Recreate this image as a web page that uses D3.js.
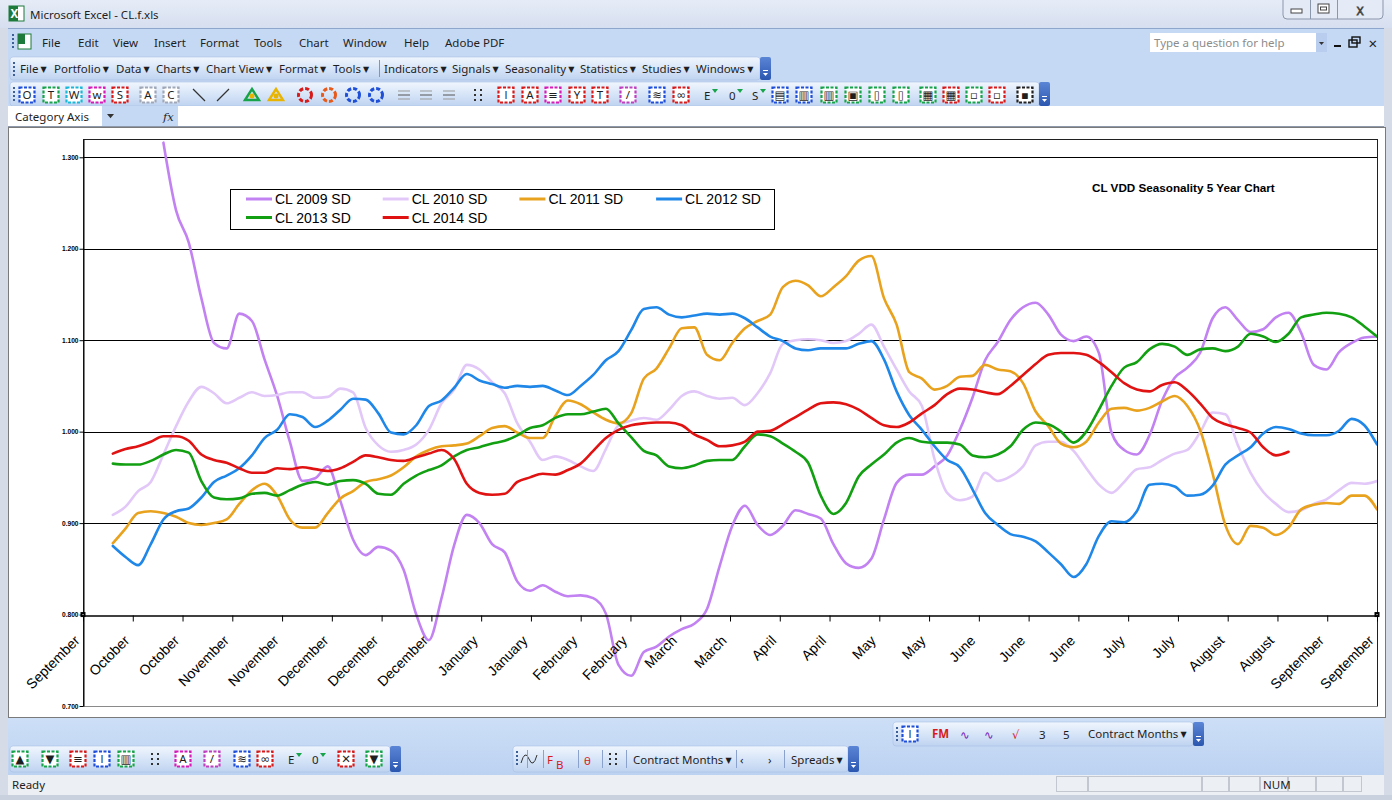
<!DOCTYPE html>
<html>
<head>
<meta charset="utf-8">
<title>CL VDD Seasonality 5 Year Chart</title>
<script src="https://cdn.jsdelivr.net/npm/d3@7"></script>
<style>
  html, body { margin: 0; padding: 0; overflow: hidden; background: #d7dee9; }
  svg text { font-family: "Liberation Sans", Arial, sans-serif; }
  .ui text { font-family: "Noto Sans", "DejaVu Sans", sans-serif; font-size: 11.5px; fill: #1e1e1e; }
</style>
</head>
<body>
<div id="graph-container"></div>
<script>
// ---- chart data -------------------------------------------------------
const categories = ["September", "October", "October", "November", "November", "December",
  "December", "December", "January", "January", "February", "February", "March", "March",
  "April", "April", "May", "May", "June", "June", "June", "July", "July", "August", "August",
  "September", "September"];

const yTicks = [0.7, 0.8, 0.9, 1.0, 1.1, 1.2, 1.3];

const seriesNames = ["CL 2009 SD", "CL 2010 SD", "CL 2011 SD", "CL 2012 SD", "CL 2013 SD", "CL 2014 SD"];
const seriesColors = ["#c282f2", "#e2c8f8", "#e9a21e", "#1f87e8", "#12a012", "#e01212"];

// seasonal index, sampled on a common trading-day grid (101 steps)
const cl2009 = [null, null, null, null, 1.316, 1.242, 1.207, 1.146, 1.097, 1.091,
  1.129, 1.121, 1.079, 1.039, 0.989, 0.946, 0.949, 0.962, 0.924, 0.882,
  0.865, 0.874, 0.870, 0.849, 0.800, 0.772, 0.818, 0.876, 0.909, 0.900,
  0.877, 0.868, 0.836, 0.826, 0.832, 0.825, 0.820, 0.821, 0.818, 0.801,
  0.745, 0.733, 0.759, 0.765, 0.776, 0.784, 0.790, 0.806, 0.853, 0.897,
  0.919, 0.898, 0.887, 0.897, 0.914, 0.910, 0.905, 0.877, 0.856, 0.851,
  0.861, 0.904, 0.944, 0.953, 0.953, 0.962, 0.974, 1.002, 1.037, 1.078,
  1.098, 1.122, 1.136, 1.141, 1.128, 1.106, 1.099, 1.104, 1.086, 0.999,
  0.980, 0.975, 0.996, 1.034, 1.059, 1.070, 1.086, 1.124, 1.136, 1.122,
  1.109, 1.112, 1.125, 1.130, 1.108, 1.073, 1.068, 1.087, 1.097, 1.103,
  1.104];

const cl2010 = [0.909, 0.918, 0.935, 0.945, 0.975, 1.006, 1.033, 1.049, 1.042, 1.031,
  1.037, 1.043, 1.039, 1.040, 1.043, 1.043, 1.037, 1.038, 1.047, 1.043,
  1.004, 0.985, 0.978, 0.980, 0.986, 1.002, 1.031, 1.046, 1.073, 1.068,
  1.054, 1.042, 1.009, 0.989, 0.969, 0.973, 0.969, 0.962, 0.957, 0.981,
  1.007, 1.012, 1.015, 1.013, 1.024, 1.039, 1.044, 1.039, 1.036, 1.037,
  1.029, 1.042, 1.064, 1.096, 1.100, 1.101, 1.100, 1.097, 1.099, 1.107,
  1.117, 1.093, 1.068, 1.044, 1.028, 0.970, 0.933, 0.925, 0.929, 0.955,
  0.946, 0.951, 0.962, 0.985, 0.989, 0.989, 0.979, 0.960, 0.942, 0.933,
  0.945, 0.959, 0.961, 0.969, 0.976, 0.980, 0.999, 1.021, 1.019, 0.985,
  0.955, 0.934, 0.921, 0.912, 0.914, 0.921, 0.926, 0.936, 0.944, 0.943,
  0.946];

const cl2011 = [0.878, 0.894, 0.911, 0.913, 0.911, 0.907, 0.900, 0.898, 0.900, 0.904,
  0.921, 0.936, 0.943, 0.930, 0.904, 0.895, 0.895, 0.911, 0.927, 0.935,
  0.945, 0.948, 0.952, 0.961, 0.973, 0.980, 0.984, 0.985, 0.987, 0.995,
  1.004, 1.006, 0.999, 0.993, 0.993, 1.017, 1.034, 1.030, 1.021, 1.013,
  1.009, 1.020, 1.058, 1.069, 1.091, 1.113, 1.114, 1.084, 1.078, 1.097,
  1.113, 1.121, 1.128, 1.158, 1.165, 1.160, 1.148, 1.158, 1.170, 1.187,
  1.192, 1.146, 1.117, 1.065, 1.058, 1.046, 1.050, 1.060, 1.061, 1.073,
  1.068, 1.066, 1.053, 1.022, 1.006, 0.987, 0.983, 0.989, 1.010, 1.025,
  1.026, 1.023, 1.026, 1.033, 1.039, 1.028, 1.002, 0.954, 0.898, 0.877,
  0.897, 0.895, 0.887, 0.895, 0.915, 0.920, 0.922, 0.921, 0.930, 0.930,
  0.915];

const cl2012 = [0.875, 0.863, 0.854, 0.877, 0.904, 0.913, 0.916, 0.928, 0.945, 0.952,
  0.960, 0.974, 0.993, 1.002, 1.019, 1.016, 1.005, 1.012, 1.024, 1.036,
  1.035, 1.020, 0.999, 0.997, 1.007, 1.028, 1.034, 1.048, 1.063, 1.056,
  1.052, 1.048, 1.050, 1.049, 1.050, 1.045, 1.040, 1.050, 1.062, 1.078,
  1.088, 1.111, 1.134, 1.136, 1.128, 1.125, 1.127, 1.129, 1.128, 1.129,
  1.124, 1.114, 1.104, 1.099, 1.091, 1.089, 1.091, 1.091, 1.091, 1.096,
  1.099, 1.079, 1.044, 1.018, 1.002, 0.984, 0.969, 0.961, 0.937, 0.911,
  0.898, 0.888, 0.885, 0.880, 0.868, 0.855, 0.841, 0.855, 0.886, 0.902,
  0.901, 0.913, 0.942, 0.943, 0.940, 0.930, 0.931, 0.941, 0.964, 0.974,
  0.983, 0.998, 1.005, 1.003, 0.998, 0.996, 0.996, 1.001, 1.014, 1.007,
  0.986];

const cl2013 = [0.965, 0.964, 0.964, 0.968, 0.975, 0.980, 0.977, 0.946, 0.928, 0.926,
  0.927, 0.932, 0.933, 0.930, 0.936, 0.942, 0.945, 0.942, 0.946, 0.947,
  0.943, 0.932, 0.931, 0.943, 0.952, 0.958, 0.963, 0.973, 0.980, 0.983,
  0.987, 0.990, 0.996, 1.004, 1.007, 1.015, 1.019, 1.019, 1.022, 1.025,
  1.009, 0.994, 0.979, 0.974, 0.962, 0.960, 0.963, 0.968, 0.969, 0.969,
  0.984, 0.997, 0.995, 0.987, 0.978, 0.966, 0.930, 0.910, 0.922, 0.951,
  0.964, 0.975, 0.988, 0.993, 0.989, 0.988, 0.988, 0.986, 0.974, 0.972,
  0.975, 0.984, 1.002, 1.010, 1.008, 1.000, 0.988, 1.000, 1.024, 1.050,
  1.070, 1.076, 1.090, 1.096, 1.093, 1.084, 1.090, 1.091, 1.088, 1.093,
  1.107, 1.104, 1.098, 1.107, 1.125, 1.128, 1.130, 1.129, 1.125, 1.115,
  1.104];

const cl2014 = [0.976, 0.981, 0.984, 0.989, 0.995, 0.995, 0.990, 0.975, 0.969, 0.966,
  0.960, 0.955, 0.955, 0.960, 0.959, 0.961, 0.959, 0.957, 0.960, 0.967,
  0.974, 0.972, 0.969, 0.968, 0.972, 0.976, 0.980, 0.970, 0.943, 0.933,
  0.931, 0.932, 0.945, 0.950, 0.954, 0.953, 0.958, 0.965, 0.979, 0.993,
  1.002, 1.007, 1.009, 1.010, 1.010, 1.007, 0.997, 0.991, 0.984, 0.985,
  0.989, 1.000, 1.001, 1.008, 1.016, 1.024, 1.031, 1.032, 1.030, 1.024,
  1.015, 1.007, 1.005, 1.010, 1.020, 1.029, 1.041, 1.047, 1.046, 1.043,
  1.041, 1.050, 1.062, 1.074, 1.084, 1.086, 1.086, 1.084, 1.076, 1.065,
  1.053, 1.046, 1.044, 1.051, 1.054, 1.045, 1.031, 1.015, 1.008, 1.004,
  0.999, 0.983, 0.974, 0.978];

const seriesValues = [cl2009, cl2010, cl2011, cl2012, cl2013, cl2014];
const chartTitle = "CL VDD Seasonality 5 Year Chart";

// ---- window chrome text -----------------------------------------------
const menuItems = [["File", 42], ["Edit", 78], ["View", 113], ["Insert", 154], ["Format", 200],
  ["Tools", 254], ["Chart", 299], ["Window", 343], ["Help", 404], ["Adobe PDF", 445]];
const toolMenus = [["File", 20], ["Portfolio", 54], ["Data", 116], ["Charts", 156], ["Chart View", 206],
  ["Format", 279], ["Tools", 333], ["Indicators", 384], ["Signals", 452], ["Seasonality", 505],
  ["Statistics", 580], ["Studies", 642], ["Windows", 696]];
const iconRow = [[27, "#1f4fd8", "O"], [51, "#17a34a", "T"], [74, "#17b8d8", "W"], [97, "#d81ab8", "w"],
  [120, "#d81a1a", "S"], [148, "#a0a8b8", "A"], [171, "#a0a8b8", "C"], [199, "line", "\\"], [223, "line", "/"],
  [252, "tri", "#17a34a"], [276, "tri", "#e8b400"], [305, "ring", "#d81a1a"], [329, "ring", "#e85a1a"],
  [353, "ring", "#1f4fd8"], [376, "ring", "#1f4fd8"], [404, "hl", ""], [426, "hl", ""], [449, "hl", ""],
  [478, "dots", ""], [506, "#d81a1a", "l"], [530, "#d81a1a", "A"], [553, "#d81ab8", "≡"], [577, "#d81a1a", "Y"],
  [600, "#d81a1a", "T"], [628, "#c040c0", "/"], [657, "#1f4fd8", "≋"], [681, "#d81a1a", "∞"],
  [708, "txt", "E"], [733, "txt", "0"], [756, "txt", "S"], [780, "#1f4fd8", "▤"], [804, "#1f4fd8", "▥"],
  [829, "#17a34a", "▥"], [853, "#17a34a", "▣"], [877, "#17a34a", "▯"], [901, "#17a34a", "▯"],
  [928, "#17a34a", "▦"], [951, "#d81a1a", "▦"], [974, "#17a34a", "▫"], [997, "#d81a1a", "▫"],
  [1025, "#222222", "▪"]];
const iconRowBottom = [[20, "#17a34a", "▲"], [50, "#17a34a", "▼"], [78, "#d81a1a", "≡"], [102, "#1f4fd8", "l"],
  [126, "#17a34a", "▥"], [155, "dots", ""], [183, "#d81ab8", "A"], [212, "#c040c0", "/"], [242, "#1f4fd8", "≋"],
  [265, "#d81a1a", "∞"], [292, "txt", "E"], [316, "txt", "0"], [346, "#d81a1a", "✕"], [374, "#17a34a", "▼"]];

// ---- layout ---------------------------------------------------------------
const W = 1392, H = 800;
const plot = { left: 83, right: 1377, top: 139, bottom: 706 };
const uiFont = '"Noto Sans", "DejaVu Sans", sans-serif';

const svg = d3.select("#graph-container").append("svg")
  .attr("width", W).attr("height", H)
  .style("display", "block");

const defs = svg.append("defs");
function vGradient(id, stops) {
  const g = defs.append("linearGradient").attr("id", id)
    .attr("x1", 0).attr("y1", 0).attr("x2", 0).attr("y2", 1);
  stops.forEach((c, i) => g.append("stop").attr("offset", i / (stops.length - 1)).attr("stop-color", c));
}
vGradient("titleGrad", ["#e6ecf7", "#d6dff0"]);
vGradient("barGrad", ["#f1f6fd", "#d7e5f8", "#bfd3f0"]);
vGradient("dockGrad", ["#cddff7", "#bcd2f1"]);
vGradient("chevGrad", ["#5b86d6", "#2c57b0"]);

drawChrome();
drawChart();

function triangleDown(g, x, y, s, color) {
  g.append("path").attr("d", `M${x},${y} l${s},0 l${-s / 2},${s * 0.6} z`).attr("fill", color || "#333");
}

function toolbar(g, x, y, w, h) {
  g.append("rect").attr("x", x).attr("y", y).attr("width", w).attr("height", h)
    .attr("rx", 3).attr("fill", "url(#barGrad)").attr("stroke", "#a9c0e4").attr("stroke-width", 0.6);
  // grip
  for (let i = 0; i < 4; i++) {
    g.append("rect").attr("x", x + 3).attr("y", y + 5 + i * 4).attr("width", 2).attr("height", 2).attr("fill", "#3d5f96");
  }
  // chevron
  g.append("rect").attr("x", x + w).attr("y", y).attr("width", 11).attr("height", h)
    .attr("rx", 2).attr("fill", "url(#chevGrad)");
  triangleDown(g, x + w + 3, y + h - 7, 5, "#ffffff");
  g.append("rect").attr("x", x + w + 3).attr("y", y + h - 10).attr("width", 5).attr("height", 1).attr("fill", "#fff");
}

function drawIcon(g, x, cy, spec) {
  const [, kind, glyph] = spec;
  const ig = g.append("g").attr("transform", `translate(${x},${cy})`);
  if (kind === "line") {
    ig.append("line").attr("x1", -6).attr("y1", glyph === "/" ? 6 : -6)
      .attr("x2", 6).attr("y2", glyph === "/" ? -6 : 6).attr("stroke", "#333").attr("stroke-width", 1.2);
  } else if (kind === "tri") {
    ig.append("path").attr("d", "M-7,5 L0,-6 L7,5 Z").attr("fill", "none").attr("stroke", glyph).attr("stroke-width", 2.4);
    ig.append("circle").attr("cx", 0).attr("cy", 1).attr("r", 2.5).attr("fill", "#e8b400");
  } else if (kind === "ring") {
    ig.append("circle").attr("r", 6.5).attr("fill", "none").attr("stroke", glyph).attr("stroke-width", 3)
      .attr("stroke-dasharray", "4 2");
  } else if (kind === "hl") {
    ig.append("line").attr("x1", -6).attr("x2", 6).attr("y1", 0).attr("y2", 0).attr("stroke", "#555");
    ig.append("line").attr("x1", -6).attr("x2", 6).attr("y1", -4).attr("y2", -4).attr("stroke", "#999");
    ig.append("line").attr("x1", -6).attr("x2", 6).attr("y1", 4).attr("y2", 4).attr("stroke", "#999");
  } else if (kind === "dots") {
    [[-3, -5], [3, -5], [-3, 0], [3, 0], [-3, 5], [3, 5]].forEach(([dx, dy]) =>
      ig.append("rect").attr("x", dx - 1).attr("y", dy - 1).attr("width", 2).attr("height", 2).attr("fill", "#333"));
  } else if (kind === "txt") {
    ig.append("text").attr("x", -4).attr("y", 5).attr("font-size", 12).attr("fill", "#222")
      .style("font-family", uiFont).text(glyph);
    ig.append("path").attr("d", "M4,-6 l6,0 l-3,4 z").attr("fill", "#17a34a");
  } else {
    ig.append("rect").attr("x", -7.5).attr("y", -7.5).attr("width", 15).attr("height", 15)
      .attr("fill", "#ffffff").attr("stroke", kind).attr("stroke-width", 2.2).attr("stroke-dasharray", "3 1.5");
    ig.append("text").attr("x", 0).attr("y", 4).attr("text-anchor", "middle").attr("font-size", 10)
      .attr("fill", "#222").style("font-family", uiFont).text(glyph);
  }
}

function drawChrome() {
  const ui = svg.append("g").attr("class", "ui");

  ui.append("rect").attr("width", W).attr("height", H).attr("fill", "#d5dce8");
  // title bar
  ui.append("rect").attr("width", W).attr("height", 28).attr("fill", "url(#titleGrad)");
  ui.append("rect").attr("x", 9).attr("y", 6).attr("width", 15).attr("height", 15).attr("fill", "#ffffff").attr("stroke", "#1d7a3a");
  ui.append("rect").attr("x", 9).attr("y", 6).attr("width", 9).attr("height", 15).attr("fill", "#1d7a3a");
  ui.append("text").attr("x", 10.5).attr("y", 17.5).attr("font-size", 10).attr("font-weight", "bold")
    .style("fill", "#fff").text("X");
  ui.append("text").attr("x", 30).attr("y", 19).attr("font-size", 12.5).text("Microsoft Excel - CL.f.xls");
  // caption buttons
  const cb = ui.append("g");
  cb.append("rect").attr("x", 1283).attr("y", -4).attr("width", 100).attr("height", 23).attr("rx", 4)
    .attr("fill", "#e4eaf6").attr("stroke", "#8b97ab");
  cb.append("line").attr("x1", 1310.5).attr("x2", 1310.5).attr("y1", 0).attr("y2", 19).attr("stroke", "#8b97ab");
  cb.append("line").attr("x1", 1337.5).attr("x2", 1337.5).attr("y1", 0).attr("y2", 19).attr("stroke", "#8b97ab");
  cb.append("rect").attr("x", 1291).attr("y", 9).attr("width", 11).attr("height", 4).attr("fill", "#fff").attr("stroke", "#444");
  cb.append("rect").attr("x", 1318).attr("y", 4).attr("width", 11).attr("height", 9).attr("fill", "#fff").attr("stroke", "#444");
  cb.append("rect").attr("x", 1320.5).attr("y", 7).attr("width", 6).attr("height", 3).attr("fill", "none").attr("stroke", "#444");
  cb.append("text").attr("x", 1360).attr("y", 15).attr("text-anchor", "middle").attr("font-size", 14)
    .style("fill", "#fff").style("stroke", "#444").style("stroke-width", 0.8).text("X");

  // menu / toolbar dock
  ui.append("rect").attr("x", 8).attr("y", 28).attr("width", 1376).attr("height", 79).attr("fill", "#c6d9f4");
  ui.append("rect").attr("x", 8).attr("y", 28).attr("width", 1376).attr("height", 1).attr("fill", "#8fa6cc");
  // menu bar
  for (let i = 0; i < 4; i++) ui.append("rect").attr("x", 12).attr("y", 34 + i * 4).attr("width", 2).attr("height", 2).attr("fill", "#3d5f96");
  ui.append("rect").attr("x", 18).attr("y", 34).attr("width", 13).attr("height", 15).attr("fill", "#fff").attr("stroke", "#1d7a3a");
  ui.append("rect").attr("x", 18).attr("y", 34).attr("width", 7).attr("height", 10).attr("fill", "#1d7a3a");
  menuItems.forEach(([label, x]) => {
    ui.append("text").attr("x", x).attr("y", 47).attr("font-size", 12).text(label);
  });
  // help box
  ui.append("rect").attr("x", 1150).attr("y", 33).attr("width", 177).attr("height", 19).attr("fill", "#fff");
  ui.append("rect").attr("x", 1316).attr("y", 33).attr("width", 11).attr("height", 19).attr("fill", "#b9cdef");
  triangleDown(ui, 1319, 42, 5, "#333");
  ui.append("text").attr("x", 1154).attr("y", 47).attr("font-size", 12).style("fill", "#8c8c8c").text("Type a question for help");
  ui.append("rect").attr("x", 1334).attr("y", 45).attr("width", 7).attr("height", 2).attr("fill", "#111");
  ui.append("rect").attr("x", 1349).attr("y", 40).attr("width", 8).attr("height", 7).attr("fill", "none").attr("stroke", "#111").attr("stroke-width", 1.4);
  ui.append("rect").attr("x", 1352).attr("y", 37).attr("width", 8).attr("height", 6).attr("fill", "none").attr("stroke", "#111").attr("stroke-width", 1.4);
  ui.append("text").attr("x", 1368).attr("y", 48).attr("font-size", 13).attr("font-weight", "bold").text("✕");

  // toolbar with drop-down menus
  toolbar(ui, 10, 57, 750, 23);
  toolMenus.forEach(([label, x]) => {
    const t = ui.append("text").attr("x", x).attr("y", 73).attr("font-size", 12).text(label);
    t.append("tspan").attr("font-size", 8).attr("dx", 2).attr("dy", -1).text("▼");
  });
  ui.append("rect").attr("x", 379).attr("y", 60).attr("width", 1).attr("height", 17).attr("fill", "#7d95bf");

  // icon toolbar
  toolbar(ui, 10, 82, 1029, 24);
  iconRow.forEach(spec => drawIcon(ui, spec[0], 95, spec));

  // name box / formula bar
  ui.append("rect").attr("x", 8).attr("y", 106).attr("width", 1376).attr("height", 21).attr("fill", "#ffffff");
  ui.append("rect").attr("x", 102).attr("y", 106).attr("width", 76).attr("height", 20).attr("fill", "#c6d9f4");
  ui.append("text").attr("x", 15).attr("y", 121).attr("font-size", 13).text("Category Axis");
  triangleDown(ui, 107, 114, 7, "#333");
  ui.append("text").attr("x", 163).attr("y", 121).attr("font-size", 12).attr("font-style", "italic")
    .style("font-family", "DejaVu Serif, serif").text("fx");
  ui.append("rect").attr("x", 8).attr("y", 126).attr("width", 1376).attr("height", 1).attr("fill", "#8e9aab");

  // chart sheet
  ui.append("rect").attr("x", 8.5).attr("y", 127.5).attr("width", 1377).attr("height", 590)
    .attr("fill", "#ffffff").attr("stroke", "#7a7a7a");

  // lower dock
  ui.append("rect").attr("x", 8).attr("y", 718).attr("width", 1376).attr("height", 57).attr("fill", "url(#dockGrad)");
  toolbar(ui, 10, 746, 380, 26);
  iconRowBottom.forEach(spec => drawIcon(ui, spec[0], 759, spec));

  toolbar(ui, 513, 746, 335, 26);
  ui.append("path").attr("d", "M521,763 q4,-14 8,-4 q4,10 8,-4").attr("fill", "none").attr("stroke", "#333");
  ui.append("text").attr("x", 547).attr("y", 764).attr("font-size", 11).style("fill", "#d81a1a").text("F");
  ui.append("text").attr("x", 556).attr("y", 769).attr("font-size", 10).style("fill", "#d81a1a").text("B");
  ui.append("text").attr("x", 584).attr("y", 765).attr("font-size", 13).style("fill", "#d81a1a").text("θ");
  drawIcon(ui, 613, 759, [613, "dots", ""]);
  [["Contract Months", 633], ["Spreads", 791]].forEach(([label, x]) => {
    const t = ui.append("text").attr("x", x).attr("y", 764).attr("font-size", 12).text(label);
    t.append("tspan").attr("font-size", 8).attr("dx", 2).attr("dy", -1).text("▼");
  });
  ui.append("text").attr("x", 740).attr("y", 764).attr("font-size", 13).text("‹");
  ui.append("text").attr("x", 768).attr("y", 764).attr("font-size", 13).text("›");
  [527, 543, 578, 602, 626, 736, 784].forEach(x =>
    ui.append("rect").attr("x", x).attr("y", 750).attr("width", 1).attr("height", 18).attr("fill", "#8aa2cc"));

  toolbar(ui, 893, 722, 300, 24);
  drawIcon(ui, 910, 734, [910, "#1f4fd8", "l"]);
  ui.append("text").attr("x", 932).attr("y", 738).attr("font-size", 9).attr("font-weight", "bold").style("fill", "#d81a1a").text("FM");
  ui.append("text").attr("x", 960).attr("y", 739).attr("font-size", 14).style("fill", "#7a2ab8").text("∿");
  ui.append("text").attr("x", 984).attr("y", 739).attr("font-size", 14).style("fill", "#7a2ab8").text("∿");
  ui.append("text").attr("x", 1012).attr("y", 739).attr("font-size", 14).style("fill", "#d81a1a").text("√");
  ui.append("text").attr("x", 1039).attr("y", 739).attr("font-size", 13).text("3");
  ui.append("text").attr("x", 1063).attr("y", 739).attr("font-size", 13).text("5");
  const cm = ui.append("text").attr("x", 1088).attr("y", 738).attr("font-size", 12).text("Contract Months");
  cm.append("tspan").attr("font-size", 8).attr("dx", 2).attr("dy", -1).text("▼");

  // status bar
  ui.append("rect").attr("x", 8).attr("y", 775).attr("width", 1376).attr("height", 20).attr("fill", "#eceff4");
  ui.append("text").attr("x", 12).attr("y", 789).attr("font-size", 12).text("Ready");
  [[1056, 32], [1088, 114], [1202, 27], [1229, 31], [1260, 28], [1288, 28], [1316, 27], [1343, 19]].forEach(([x, w]) =>
    ui.append("rect").attr("x", x + 0.5).attr("y", 776.5).attr("width", w - 1).attr("height", 15)
      .attr("fill", "none").attr("stroke", "#c3c8d0"));
  ui.append("text").attr("x", 1263).attr("y", 789).attr("font-size", 11).text("NUM");
  ui.append("rect").attr("x", 0).attr("y", 795).attr("width", W).attr("height", 5).attr("fill", "#c9d1de");
}

function drawChart() {
  const g = svg.append("g").attr("class", "chart");

  const y = d3.scaleLinear().domain([0.7, 1.32]).range([plot.bottom, plot.top]);
  const catX = d3.scaleLinear().domain([0, categories.length - 1]).range([plot.left, plot.right]);
  const nDays = cl2010.length;
  const dayX = d3.scaleLinear().domain([0, nDays - 1]).range([catX(0.6), catX(categories.length - 1)]);

  // plot area frame
  g.append("rect").attr("x", plot.left + 0.5).attr("y", plot.top + 0.5)
    .attr("width", plot.right - plot.left).attr("height", plot.bottom - plot.top)
    .attr("fill", "#ffffff").attr("stroke", "#202020");
  g.append("line").attr("x1", plot.left).attr("x2", plot.right + 1)
    .attr("y1", plot.bottom + 0.5).attr("y2", plot.bottom + 0.5).attr("stroke", "#8a8a8a");

  // horizontal gridlines
  g.append("g")
    .selectAll("line")
    .data(yTicks.filter(v => v > 0.85))
    .enter()
    .append("line")
    .attr("x1", plot.left).attr("x2", plot.right)
    .attr("y1", d => Math.round(y(d)) + 0.5).attr("y2", d => Math.round(y(d)) + 0.5)
    .attr("stroke", "#000").attr("stroke-width", 1);

  // value axis
  const yAxis = g.append("g")
    .attr("transform", `translate(${plot.left + 0.5},0)`)
    .call(d3.axisLeft(y).tickValues(yTicks).tickFormat(d3.format(".3f")).tickSize(4).tickSizeOuter(0).tickPadding(1));
  yAxis.select(".domain").attr("stroke", "#000");
  yAxis.selectAll(".tick line").attr("stroke", "#000");
  yAxis.selectAll("text")
    .attr("font-size", 6.6).attr("font-weight", "bold").attr("fill", "#000")
    .style("font-family", '"Liberation Sans", Arial, sans-serif');

  // series lines
  defs.append("clipPath").attr("id", "plotClip")
    .append("rect").attr("x", plot.left + 1).attr("y", plot.top + 1)
    .attr("width", plot.right - plot.left - 1).attr("height", plot.bottom - plot.top - 1);

  const line = d3.line()
    .defined(d => d != null)
    .x((d, i) => dayX(i))
    .y(d => y(d))
    .curve(d3.curveMonotoneX);

  g.append("g").attr("clip-path", "url(#plotClip)")
    .selectAll("path")
    .data(seriesValues)
    .enter()
    .append("path")
    .attr("d", d => line(d))
    .attr("fill", "none")
    .attr("stroke", (d, i) => seriesColors[i])
    .attr("stroke-width", 2.6)
    .attr("stroke-linejoin", "round")
    .attr("stroke-linecap", "round");

  // category axis crossing at 0.800
  const xAxis = g.append("g")
    .attr("transform", `translate(0,${Math.round(y(0.8)) + 0.5})`)
    .call(d3.axisBottom(catX)
      .tickValues(d3.range(categories.length))
      .tickFormat(i => categories[i])
      .tickSize(6).tickSizeOuter(0));
  xAxis.select(".domain").attr("stroke", "#000").attr("stroke-width", 1.4);
  xAxis.selectAll(".tick line").attr("stroke", "#000");
  xAxis.selectAll("text")
    .attr("x", 0).attr("y", 0).attr("dy", 0)
    .attr("text-anchor", "end")
    .attr("transform", "translate(-3,26) rotate(-45)")
    .attr("font-size", 14).attr("fill", "#000")
    .style("font-family", '"Liberation Sans", Arial, sans-serif');

  // selection handles of the selected category axis
  [plot.left, plot.right].forEach(x => {
    g.append("rect").attr("x", x - 2.5).attr("y", y(0.8) - 2.5).attr("width", 5).attr("height", 5).attr("fill", "#000");
    g.append("rect").attr("x", x - 0.5).attr("y", y(0.8) - 0.5).attr("width", 1).attr("height", 1).attr("fill", "#fff");
  });

  // legend
  const legend = g.append("g");
  legend.append("rect").attr("x", 230.5).attr("y", 189.5).attr("width", 544).attr("height", 40)
    .attr("fill", "#fff").attr("stroke", "#000");
  const item = legend.selectAll("g.item")
    .data(seriesNames)
    .enter()
    .append("g")
    .attr("class", "item")
    .attr("transform", (d, i) => `translate(${246 + (i % 4) * 136.7},${199 + Math.floor(i / 4) * 18.5})`);
  item.append("line").attr("x1", 0).attr("x2", 26).attr("y1", 0).attr("y2", 0)
    .attr("stroke", (d, i) => seriesColors[i]).attr("stroke-width", 3);
  item.append("text").attr("x", 29).attr("y", 5).attr("font-size", 14).attr("fill", "#000").text(d => d);

  // title
  g.append("text").attr("x", 1092).attr("y", 191.5)
    .attr("font-size", 11.7).attr("font-weight", "bold").attr("fill", "#000")
    .text(chartTitle);
}
</script>
</body>
</html>
